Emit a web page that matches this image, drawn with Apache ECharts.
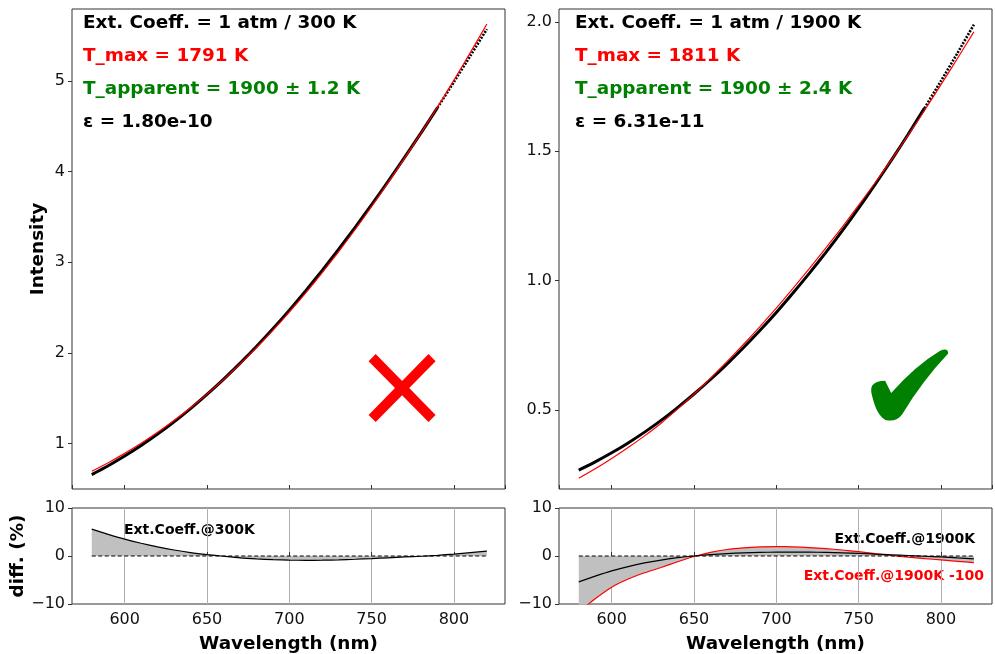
<!DOCTYPE html>
<html>
<head>
<meta charset="utf-8">
<script src="https://cdn.jsdelivr.net/npm/echarts@6/dist/echarts.min.js"></script>
<style>
  html, body { margin: 0; padding: 0; background: #fff; }
  #chart { width: 995px; height: 654px; }
</style>
</head>
<body>
<div id="chart"></div>
<script>
// Wavelength grid (nm)
const wavelengths = [580, 590, 600, 610, 620, 630, 640, 650, 660, 670, 680, 690, 700,
                     710, 720, 730, 740, 750, 760, 770, 780, 790, 800, 810, 820];

// Extinction coefficient at 300 K: measured spectrum and fitted curve
const measured300 = [0.655, 0.7525, 0.8593, 0.9756, 1.1018, 1.2378, 1.3841, 1.5401, 1.7063,
                     1.8825, 2.0688, 2.2649, 2.4708, 2.6858, 2.9101, 3.1434, 3.3850, 3.6350,
                     3.8926, 4.1569, 4.4281, 4.7060, 4.9898, 5.2794, 5.5733];
const fit300 = [0.6917, 0.7864, 0.8894, 1.0010, 1.1222, 1.2527, 1.3931, 1.5432, 1.7037,
                1.8740, 2.0554, 2.2468, 2.4491, 2.6611, 2.8839, 3.1176, 3.3613, 3.6150,
                3.8778, 4.1486, 4.4259, 4.7131, 5.0098, 5.3164, 5.6290];

// Extinction coefficient at 1900 K: measured spectrum and fitted curve
const measured1900 = [0.2680, 0.3000, 0.3349, 0.3731, 0.4148, 0.4602, 0.5097, 0.5621, 0.6182,
                      0.6778, 0.7408, 0.8074, 0.8772, 0.9512, 1.0284, 1.1085, 1.1924, 1.2802,
                      1.3717, 1.4667, 1.5652, 1.6669, 1.7718, 1.8795, 1.9897];
const fit1900 = [0.2369, 0.2733, 0.3131, 0.3552, 0.4003, 0.4492, 0.5036, 0.5615, 0.6228,
                 0.6870, 0.7534, 0.8227, 0.8943, 0.9693, 1.0464, 1.1257, 1.2073, 1.2917,
                 1.3786, 1.4682, 1.5613, 1.6577, 1.7576, 1.8588, 1.9618];

// Relative differences (%)
const diff300 = [5.6, 4.5, 3.5, 2.65, 1.9, 1.25, 0.72, 0.3, -0.05, -0.38, -0.6, -0.76, -0.86,
                 -0.9, -0.88, -0.8, -0.68, -0.54, -0.38, -0.2, -0.05, 0.15, 0.4, 0.7, 1.0];
const diff1900 = [-5.4, -4.2, -3.1, -2.2, -1.45, -0.85, -0.35, 0.0, 0.3, 0.5, 0.65, 0.75, 0.8,
                  0.82, 0.8, 0.75, 0.65, 0.55, 0.4, 0.25, 0.1, -0.05, -0.2, -0.4, -0.6];
const diff1900m100 = [-11.6, -8.9, -6.5, -4.8, -3.5, -2.4, -1.2, -0.1, 0.75, 1.35, 1.7, 1.9, 1.95,
                      1.9, 1.75, 1.55, 1.25, 0.9, 0.5, 0.1, -0.25, -0.55, -0.8, -1.1, -1.4];

// Zero reference for the difference panels
const zeroLineX = [580, 820];
const zeroLineY = [0, 0];

// Verdict markers [wavelength, intensity]
const crossMark = [768.5, 1.61];
const checkMark = [781, 0.597];

// Axis ranges
const xRange = [568, 831];
const yRange300 = [0.496, 5.795];
const yRange1900 = [0.195, 2.05];
const diffRange = [-10, 10];

// Wavelength where the measured trace switches from solid to dotted rendering
const dottedFrom = 790;

const FONT = '"DejaVu Sans", "Liberation Sans", sans-serif';
const FRAME = '#333';
const LABEL_FONT = 'bold 18.4px ' + FONT;
const NOTE_FONT = 'bold 14px ' + FONT;

function pairs(xs, ys) { return xs.map((x, i) => [x, ys[i]]); }
function upTo(xs, ys, lim) { return pairs(xs, ys).filter(p => p[0] <= lim); }
function from(xs, ys, lim) { return pairs(xs, ys).filter(p => p[0] >= lim); }

const minusFmt = v => (v < 0 ? '\u2212' + Math.abs(v) : String(v));

function xAxisFor(gridIndex, bottom) {
  return {
    type: 'value', gridIndex, min: xRange[0], max: xRange[1], splitNumber: 5,
    axisLine: { show: false },
    axisTick: { show: true, inside: true, length: 4, lineStyle: { color: FRAME } },
    axisLabel: {
      show: bottom, showMinLabel: false, showMaxLabel: false, margin: 8,
      fontFamily: FONT, fontSize: 16, color: '#111'
    },
    splitLine: {
      show: bottom, showMinLine: false, showMaxLine: false,
      lineStyle: { color: '#b0b0b0', width: 1 }
    },
    name: bottom ? 'Wavelength (nm)' : '',
    nameLocation: 'middle', nameGap: 31,
    nameTextStyle: { fontFamily: FONT, fontSize: 18.4, fontWeight: 'bold', color: '#000' }
  };
}

function yAxisFor(gridIndex, range, opts) {
  return Object.assign({
    type: 'value', gridIndex, min: range[0], max: range[1],
    axisLine: { show: false },
    axisTick: { show: true, inside: false, length: 4, lineStyle: { color: FRAME } },
    axisLabel: {
      showMinLabel: false, showMaxLabel: false, margin: 7,
      fontFamily: FONT, fontSize: 16, color: '#111'
    },
    splitLine: { show: false },
    nameLocation: 'middle',
    nameTextStyle: { fontFamily: FONT, fontSize: 18.4, fontWeight: 'bold', color: '#000' }
  }, opts);
}

const gridBase = { show: true, borderColor: FRAME, borderWidth: 1, backgroundColor: 'transparent' };

const option = {
  animation: false,
  backgroundColor: '#fff',
  grid: [
    Object.assign({ left: 72, top: 9, width: 433, height: 480 }, gridBase),
    Object.assign({ left: 559, top: 9, width: 433, height: 480 }, gridBase),
    Object.assign({ left: 72, top: 508, width: 433, height: 96 }, gridBase),
    Object.assign({ left: 559, top: 508, width: 433, height: 96 }, gridBase)
  ],
  xAxis: [xAxisFor(0, false), xAxisFor(1, false), xAxisFor(2, true), xAxisFor(3, true)],
  yAxis: [
    yAxisFor(0, yRange300, { splitNumber: 5, name: 'Intensity', nameGap: 25 }),
    yAxisFor(1, yRange1900, {
      splitNumber: 4,
      axisLabel: {
        showMinLabel: false, showMaxLabel: false, margin: 7,
        fontFamily: FONT, fontSize: 16, color: '#111',
        formatter: v => v.toFixed(1)
      }
    }),
    yAxisFor(2, diffRange, {
      interval: 10, name: 'diff. (%)', nameGap: 36,
      axisLabel: {
        showMinLabel: true, showMaxLabel: true, margin: 7,
        fontFamily: FONT, fontSize: 16, color: '#111', formatter: minusFmt
      }
    }),
    yAxisFor(3, diffRange, {
      interval: 10,
      axisLabel: {
        showMinLabel: true, showMaxLabel: true, margin: 7,
        fontFamily: FONT, fontSize: 16, color: '#111', formatter: minusFmt
      }
    })
  ],
  series: [
    // ---- 300 K panel ----
    {
      type: 'line', xAxisIndex: 0, yAxisIndex: 0, symbol: 'none', smooth: 0.2,
      data: upTo(wavelengths, measured300, dottedFrom),
      lineStyle: { color: '#000', width: 3 }, z: 2
    },
    {
      type: 'line', xAxisIndex: 0, yAxisIndex: 0, symbol: 'none', smooth: 0.2,
      data: from(wavelengths, measured300, dottedFrom),
      lineStyle: { color: '#000', width: 2.6, type: [2, 1.4] }, z: 2
    },
    {
      type: 'line', xAxisIndex: 0, yAxisIndex: 0, symbol: 'none', smooth: 0.2,
      data: pairs(wavelengths, fit300),
      lineStyle: { color: '#ff0000', width: 1.2 }, z: 3
    },
    {
      type: 'scatter', xAxisIndex: 0, yAxisIndex: 0,
      data: [crossMark], symbolSize: [67, 68],
      symbol: 'path://M0,10.6L10.6,0L50,39.4L89.4,0L100,10.6L60.6,50L100,89.4L89.4,100L50,60.6L10.6,100L0,89.4L39.4,50Z',
      itemStyle: { color: '#ff0000', opacity: 1 }, emphasis: { disabled: true }, z: 4
    },
    // ---- 1900 K panel ----
    {
      type: 'line', xAxisIndex: 1, yAxisIndex: 1, symbol: 'none', smooth: 0.2,
      data: upTo(wavelengths, measured1900, dottedFrom),
      lineStyle: { color: '#000', width: 3 }, z: 2
    },
    {
      type: 'line', xAxisIndex: 1, yAxisIndex: 1, symbol: 'none', smooth: 0.2,
      data: from(wavelengths, measured1900, dottedFrom),
      lineStyle: { color: '#000', width: 2.6, type: [2, 1.4] }, z: 2
    },
    {
      type: 'line', xAxisIndex: 1, yAxisIndex: 1, symbol: 'none', smooth: 0.2,
      data: pairs(wavelengths, fit1900),
      lineStyle: { color: '#ff0000', width: 1.2 }, z: 3
    },
    {
      type: 'scatter', xAxisIndex: 1, yAxisIndex: 1,
      data: [checkMark], symbolSize: [77, 71],
      symbol: 'path://M96,163Q108,150,134,150L152,186Q225,105,298,62Q322,52,322,70Q245,150,185,248Q168,272,135,265Q108,252,94,190Q90,172,96,163Z',
      itemStyle: { color: '#008000', opacity: 1 }, emphasis: { disabled: true }, z: 4
    },
    // ---- 300 K difference ----
    {
      type: 'line', xAxisIndex: 2, yAxisIndex: 2, symbol: 'none', smooth: 0.2,
      data: pairs(wavelengths, diff300),
      lineStyle: { color: '#000', width: 1.2 },
      areaStyle: { color: '#c0c0c0', opacity: 1, origin: 0 }, z: 2
    },
    {
      type: 'line', xAxisIndex: 2, yAxisIndex: 2, symbol: 'none',
      data: pairs(zeroLineX, zeroLineY),
      lineStyle: { color: '#000', width: 1, type: [4, 2.5] }, z: 3
    },
    // ---- 1900 K difference ----
    {
      type: 'line', xAxisIndex: 3, yAxisIndex: 3, symbol: 'none', smooth: 0.2,
      data: pairs(wavelengths, diff1900m100),
      lineStyle: { color: '#ff0000', width: 1.2 },
      areaStyle: { color: '#c0c0c0', opacity: 1, origin: 0 }, z: 2
    },
    {
      type: 'line', xAxisIndex: 3, yAxisIndex: 3, symbol: 'none', smooth: 0.2,
      data: pairs(wavelengths, diff1900),
      lineStyle: { color: '#000', width: 1.2 }, z: 3
    },
    {
      type: 'line', xAxisIndex: 3, yAxisIndex: 3, symbol: 'none',
      data: pairs(zeroLineX, zeroLineY),
      lineStyle: { color: '#000', width: 1, type: [4, 2.5] }, z: 3
    }
  ],
  graphic: [
    { type: 'text', x: 83, y: 23.5, style: { text: 'Ext. Coeff. = 1 atm / 300 K', font: LABEL_FONT, fill: '#000', verticalAlign: 'middle' } },
    { type: 'text', x: 83, y: 56.5, style: { text: 'T_max = 1791 K', font: LABEL_FONT, fill: '#ff0000', verticalAlign: 'middle' } },
    { type: 'text', x: 83, y: 89.5, style: { text: 'T_apparent = 1900 \u00b1 1.2 K', font: LABEL_FONT, fill: '#008000', verticalAlign: 'middle' } },
    { type: 'text', x: 83, y: 122.5, style: { text: '\u03b5 = 1.80e-10', font: LABEL_FONT, fill: '#000', verticalAlign: 'middle' } },

    { type: 'text', x: 575, y: 23.5, style: { text: 'Ext. Coeff. = 1 atm / 1900 K', font: LABEL_FONT, fill: '#000', verticalAlign: 'middle' } },
    { type: 'text', x: 575, y: 56.5, style: { text: 'T_max = 1811 K', font: LABEL_FONT, fill: '#ff0000', verticalAlign: 'middle' } },
    { type: 'text', x: 575, y: 89.5, style: { text: 'T_apparent = 1900 \u00b1 2.4 K', font: LABEL_FONT, fill: '#008000', verticalAlign: 'middle' } },
    { type: 'text', x: 575, y: 122.5, style: { text: '\u03b5 = 6.31e-11', font: LABEL_FONT, fill: '#000', verticalAlign: 'middle' } },

    { type: 'text', x: 124, y: 530, style: { text: 'Ext.Coeff.@300K', font: NOTE_FONT, fill: '#000', verticalAlign: 'middle' } },
    { type: 'text', x: 975, y: 539, style: { text: 'Ext.Coeff.@1900K', font: NOTE_FONT, fill: '#000', align: 'right', verticalAlign: 'middle' } },
    { type: 'text', x: 984, y: 576, style: { text: 'Ext.Coeff.@1900K -100', font: NOTE_FONT, fill: '#ff0000', align: 'right', verticalAlign: 'middle' } }
  ]
};

const chart = echarts.init(document.getElementById('chart'), null, { renderer: 'canvas' });
chart.setOption(option);
</script>
</body>
</html>
